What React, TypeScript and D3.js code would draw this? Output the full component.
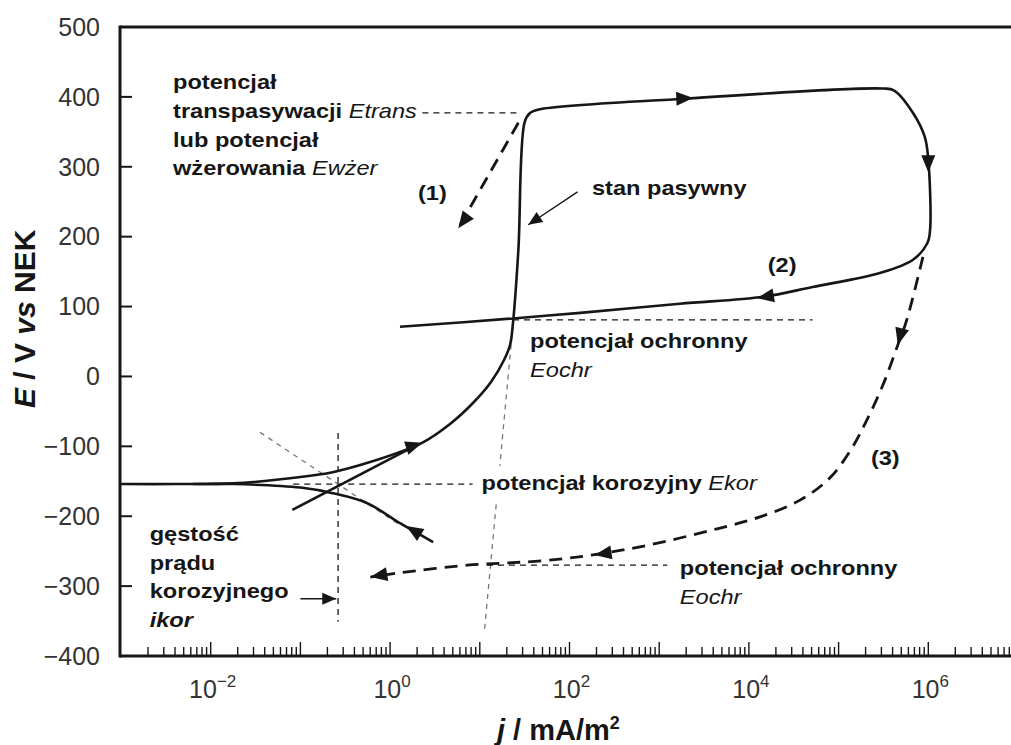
import * as d3 from "d3";

const W = 1011;
const H = 745;

// potential axis ticks, mV vs NEK
const eTicks = [500, 400, 300, 200, 100, 0, -100, -200, -300, -400];
// labelled decades of j (mA/m2)
const jLabelExps = [-2, 0, 2, 4, 6];

// all curves are [log10 j, E]
const anodicLoop: [number, number][] = [
  [-3.0, -154], [-2.4, -154], [-1.75, -153], [-1.0, -144], [-0.64, -137],
  [-0.26, -124], [0.356, -95], [0.668, -68], [0.924, -38], [1.125, -8],
  [1.27, 23.5], [1.337, 45], [1.37, 76.5], [1.43, 181], [1.5, 364], [1.56, 377],
  [1.66, 382], [3.23, 397], [5.49, 412], [5.62, 409], [5.83, 377], [5.96, 343],
  [6.0, 310], [6.02, 210], [5.99, 191], [5.83, 167], [5.46, 148], [4.71, 128],
  [4.16, 114], [3.23, 104], [2.12, 91], [1.37, 83], [0.11, 71],
];
const cathodicBranch: [number, number][] = [
  [-2.2, -154], [-1.75, -154], [-1.0, -159], [-0.64, -167], [-0.26, -181],
  [0.11, -210], [0.48, -237],
];
const anodicTafel: [number, number][] = [[-1.09, -191], [0.3, -98]];
const cathodicTafel: [number, number][] = [[-1.45, -80], [0.1, -212]];

// reverse scans (dashed)
const reverse1: [number, number][] = [[1.43, 363], [0.76, 212]];
const reverse3: [number, number][] = [
  [5.94, 171], [5.76, 81], [5.66, 45], [5.495, -12], [5.305, -65], [5.15, -102],
  [4.904, -145], [4.57, -177], [4.124, -201], [3.645, -218], [2.89, -241],
  [2.28, -255], [1.76, -263], [1.3, -267], [0.86, -270], [0.11, -281],
  [-0.22, -287],
];

// thin construction lines
const guides: [number, number][][] = [
  [[0.36, 377], [1.45, 377]], // Etrans
  [[-0.58, -81], [-0.58, -351]], // ikor
  [[-1.08, -154], [0.92, -154]], // Ekor
  [[1.37, 81], [4.71, 81]], // Eochr (upper)
  [[1.08, -270], [3.09, -270]], // Eochr (lower)
];
const greyGuides: [number, number][][] = [
  [[1.37, 74], [1.223, -128]],
  [[1.183, -183], [1.05, -366]],
];

// arrows: [from, tip]
const curveArrows: [number, number][][] = [
  [[-0.05, -112], [0.36, -95]],
  [[2.9, 395.6], [3.38, 398.4]],
  [[6.0, 330], [6.0, 292]],
  [[4.5, 121], [4.09, 112]],
  [[0.42, -233], [0.18, -214]],
  [[0.89, 235], [0.76, 212]],
  [[5.72, 74], [5.66, 45]],
  [[2.56, -250], [2.28, -255.5]],
  [[0.055, -281], [-0.22, -287]],
];
const pointerArrows: [number, number][][] = [
  [[2.09, 264], [1.54, 217]], // stan pasywny
  [[-1.0, -318], [-0.6, -318]], // ikor
];

type Seg = { t: string; k?: "i" | "bi" };
const notes: { at: [number, number]; lines: Seg[][] }[] = [
  {
    at: [-2.42, 411],
    lines: [
      [{ t: "potencjał" }],
      [{ t: "transpasywacji " }, { t: "Etrans", k: "i" }],
      [{ t: "lub potencjał" }],
      [{ t: "wżerowania " }, { t: "Ewżer", k: "i" }],
    ],
  },
  { at: [2.25, 259.6], lines: [[{ t: "stan pasywny" }]] },
  { at: [0.31, 252.5], lines: [[{ t: "(1)" }]] },
  { at: [4.21, 149.5], lines: [[{ t: "(2)" }]] },
  { at: [5.36, -126.7], lines: [[{ t: "(3)" }]] },
  {
    at: [1.56, 40.7],
    lines: [[{ t: "potencjał ochronny" }], [{ t: "Eochr", k: "i" }]],
  },
  {
    at: [1.02, -162.5],
    lines: [[{ t: "potencjał korozyjny " }, { t: "Ekor", k: "i" }]],
  },
  {
    at: [3.23, -284],
    lines: [[{ t: "potencjał ochronny" }], [{ t: "Eochr", k: "i" }]],
  },
  {
    at: [-2.68, -235.5],
    lines: [
      [{ t: "gęstość" }],
      [{ t: "prądu" }],
      [{ t: "korozyjnego" }],
      [{ t: "ikor", k: "bi" }],
    ],
  },
];

const FONT = "'Liberation Sans', Arial, Helvetica, sans-serif";
const INK = "#161616";

export default function App() {
  const x = d3.scaleLog().domain([1e-3, 1e7]).range([121, 1018]);
  const y = d3.scaleLinear().domain([-400, 500]).range([656, 27]);
  const px = (d: [number, number]) => x(10 ** d[0]);
  const py = (d: [number, number]) => y(d[1]);

  const smooth = d3
    .line<[number, number]>()
    .x(px)
    .y(py)
    .curve(d3.curveCatmullRom.alpha(0.5));
  const straight = d3.line<[number, number]>().x(px).y(py);

  const head = (from: [number, number], tip: [number, number], len: number, half: number) => {
    const x1 = px(from), y1 = py(from), x2 = px(tip), y2 = py(tip);
    const n = Math.hypot(x2 - x1, y2 - y1);
    const ux = (x2 - x1) / n, uy = (y2 - y1) / n;
    const bx = x2 - ux * len, by = y2 - uy * len;
    return `M${x2},${y2}L${bx - uy * half},${by + ux * half}L${bx + uy * half},${by - ux * half}Z`;
  };

  const x0 = 120;
  const xTicks: { v: number; major: boolean }[] = [];
  for (let d = -3; d <= 6; d++) {
    for (let k = 1; k <= 9; k++) {
      if (d === -3 && k === 1) continue;
      const v = k * 10 ** d;
      if (x(v) > W) continue;
      xTicks.push({ v, major: k === 1 });
    }
  }

  return (
    <svg
      width={W}
      height={H}
      style={{ position: "absolute", left: 0, top: 0, background: "#fff" }}
      fontFamily={FONT}
    >
      <rect width={W} height={H} fill="#fff" />

      {/* frame */}
      <line x1={x0} x2={W} y1={y(500)} y2={y(500)} stroke={INK} strokeWidth={3} />
      <line x1={x0} x2={W} y1={y(-400)} y2={y(-400)} stroke={INK} strokeWidth={3} />
      <line x1={x0} x2={x0} y1={y(500) - 1.5} y2={y(-400) + 1.5} stroke={INK} strokeWidth={3} />

      {eTicks
        .filter((t) => t !== 500 && t !== -400)
        .map((t) => (
          <line key={t} x1={x0} x2={x0 + 12} y1={y(t)} y2={y(t)} stroke={INK} strokeWidth={2} />
        ))}
      {eTicks.map((t) => (
        <text
          key={t}
          x={100}
          y={y(t)}
          dy="0.35em"
          textAnchor="end"
          fontSize={25}
          fill="#333"
        >
          {t < 0 ? `\u2212${Math.abs(t)}` : t}
        </text>
      ))}

      {xTicks.map((t, i) => (
        <line
          key={i}
          x1={x(t.v)}
          x2={x(t.v)}
          y1={y(-400)}
          y2={y(-400) - (t.major ? 14 : 9)}
          stroke={INK}
          strokeWidth={1.4}
        />
      ))}
      {jLabelExps.map((e) => (
        <text key={e} x={x(10 ** e) + 2} y={698} textAnchor="middle" fontSize={25} fill="#333">
          10
          <tspan dy={-11} fontSize={17}>
            {e < 0 ? `\u2212${Math.abs(e)}` : e}
          </tspan>
        </text>
      ))}

      {/* axis titles */}
      <text transform="translate(35,408) rotate(-90)" fontSize={30} fontWeight="bold" fill={INK}>
        <tspan fontStyle="italic">E</tspan>
        {" / V "}
        <tspan fontStyle="italic">vs</tspan>
        {" NEK"}
      </text>
      <text x={497} y={740} fontSize={29} fontWeight="bold" fill={INK}>
        <tspan fontStyle="italic">j</tspan>
        {" / mA/m"}
        <tspan dy={-11} fontSize={18}>2</tspan>
      </text>

      {/* construction lines */}
      {greyGuides.map((g, i) => (
        <path key={i} d={straight(g) || ""} stroke="#777" strokeWidth={1.3} strokeDasharray="5 5" fill="none" />
      ))}
      <path d={straight(cathodicTafel) || ""} stroke="#777" strokeWidth={1.3} strokeDasharray="5 5" fill="none" />
      {guides.map((g, i) => (
        <path key={i} d={straight(g) || ""} stroke={INK} strokeWidth={1.3} strokeDasharray="6 5" fill="none" />
      ))}

      {/* polarisation curve */}
      <path d={smooth(anodicLoop) || ""} stroke={INK} strokeWidth={2.6} fill="none" strokeLinejoin="round" />
      <path d={smooth(cathodicBranch) || ""} stroke={INK} strokeWidth={2.6} fill="none" />
      <path d={straight(anodicTafel) || ""} stroke={INK} strokeWidth={2.6} fill="none" />

      <path d={straight(reverse1) || ""} stroke={INK} strokeWidth={2.8} strokeDasharray="13 8" fill="none" />
      <path d={smooth(reverse3) || ""} stroke={INK} strokeWidth={2.8} strokeDasharray="13 8" fill="none" />

      {curveArrows.map((a, i) => (
        <path key={i} d={head(a[0], a[1], 17, 7)} fill={INK} />
      ))}
      {pointerArrows.map((a, i) => (
        <g key={i}>
          <line x1={px(a[0])} y1={py(a[0])} x2={px(a[1])} y2={py(a[1])} stroke={INK} strokeWidth={1.4} />
          <path d={head(a[0], a[1], 14, 6)} fill={INK} />
        </g>
      ))}

      {/* annotations */}
      {notes.map((n, i) => (
        <g key={i} transform={`translate(${px(n.at)},${py(n.at)}) scale(1.18,1)`}>
          <text fontSize={20} fontWeight="bold" fill={INK}>
            {n.lines.map((ln, j) => (
              <tspan key={j} x={0} y={j * 28.7}>
                {ln.map((s, k) => (
                  <tspan
                    key={k}
                    fontStyle={s.k ? "italic" : "normal"}
                    fontWeight={s.k === "i" ? "normal" : "bold"}
                  >
                    {s.t}
                  </tspan>
                ))}
              </tspan>
            ))}
          </text>
        </g>
      ))}
    </svg>
  );
}
